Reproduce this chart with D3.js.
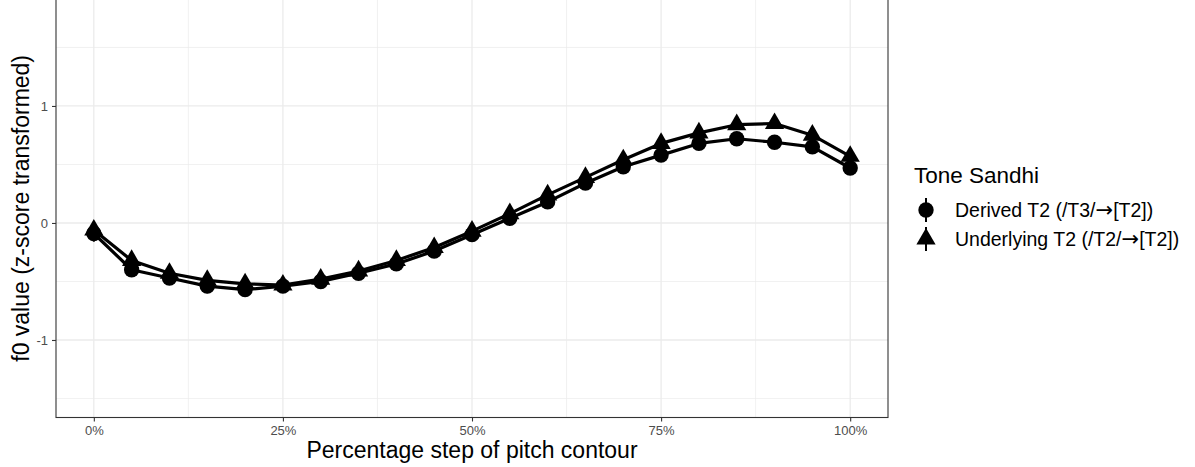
<!DOCTYPE html>
<html>
<head>
<meta charset="utf-8">
<script src="https://cdn.jsdelivr.net/npm/d3@7"></script>
<style>
  body { margin: 0; background: #fff; }
  svg { display: block; font-family: "Liberation Sans", Arial, Helvetica, sans-serif; }
</style>
</head>
<body>
<div id="chart"></div>
<script>
// percentage steps of the pitch contour
const steps = [0, 5, 10, 15, 20, 25, 30, 35, 40, 45, 50, 55, 60, 65, 70, 75, 80, 85, 90, 95, 100];

// mean f0 (z-score) for each tone sandhi group
const derivedT2 = [-0.09, -0.40, -0.47, -0.54, -0.57, -0.54, -0.50, -0.43, -0.35, -0.24, -0.10, 0.04, 0.18, 0.34, 0.48, 0.58, 0.68, 0.72, 0.69, 0.65, 0.47];
const underlyingT2 = [-0.06, -0.32, -0.43, -0.49, -0.52, -0.53, -0.48, -0.41, -0.32, -0.21, -0.07, 0.08, 0.24, 0.39, 0.54, 0.68, 0.77, 0.84, 0.85, 0.75, 0.57];

// standard errors (error bars)
const derivedSE = [0.07, 0.06, 0.06, 0.06, 0.06, 0.05, 0.05, 0.05, 0.05, 0.05, 0.05, 0.05, 0.05, 0.05, 0.05, 0.05, 0.05, 0.05, 0.05, 0.05, 0.05];
const underlyingSE = [0.05, 0.05, 0.05, 0.05, 0.05, 0.04, 0.04, 0.04, 0.04, 0.04, 0.04, 0.04, 0.04, 0.04, 0.04, 0.04, 0.04, 0.04, 0.04, 0.04, 0.04];

// legend labels, split round the arrow
const seriesLabels = [["Derived T2 (/T3/", "[T2])"], ["Underlying T2 (/T2/", "[T2])"]];
const xTicks = [0, 25, 50, 75, 100];
const xMinor = [12.5, 37.5, 62.5, 87.5];
const yTicks = [-1, 0, 1];
const yMinor = [-1.5, -0.5, 0.5, 1.5];

const svg_w = 1195, svg_h = 467;
const margin = { top: -0.8, right: 307, bottom: 49.5, left: 56 };
const width = svg_w - margin.left - margin.right,
    height = svg_h - margin.top - margin.bottom;

const svg = d3.select("#chart")
    .append("svg")
    .attr("width", svg_w)
    .attr("height", svg_h);

const g = svg.append("g")
    .attr("transform", "translate(" + margin.left + "," + margin.top + ")");

// ggplot-like expanded limits
const x = d3.scaleLinear().domain([-5, 105]).range([0, width]);
const y = d3.scaleLinear().domain([-1.6625, 1.9125]).range([height, 0]);

// grid lines
g.selectAll(".xminor").data(xMinor).enter().append("line")
    .attr("x1", d => x(d)).attr("x2", d => x(d))
    .attr("y1", 0).attr("y2", height)
    .attr("stroke", "#ebebeb").attr("stroke-width", 0.7);
g.selectAll(".yminor").data(yMinor).enter().append("line")
    .attr("x1", 0).attr("x2", width)
    .attr("y1", d => y(d)).attr("y2", d => y(d))
    .attr("stroke", "#ebebeb").attr("stroke-width", 0.7);
g.selectAll(".xmajor").data(xTicks).enter().append("line")
    .attr("x1", d => x(d)).attr("x2", d => x(d))
    .attr("y1", 0).attr("y2", height)
    .attr("stroke", "#ebebeb").attr("stroke-width", 1.3);
g.selectAll(".ymajor").data(yTicks).enter().append("line")
    .attr("x1", 0).attr("x2", width)
    .attr("y1", d => y(d)).attr("y2", d => y(d))
    .attr("stroke", "#ebebeb").attr("stroke-width", 1.3);

// series
const series = [
    { label: seriesLabels[0], values: derivedT2, se: derivedSE, shape: d3.symbolCircle, size: 185 },
    { label: seriesLabels[1], values: underlyingT2, se: underlyingSE, shape: d3.symbolTriangle, size: 160 },
];

const line = d3.line()
    .x((d, i) => x(steps[i]))
    .y(d => y(d));

series.forEach(s => {
    g.append("path")
        .datum(s.values)
        .attr("fill", "none")
        .attr("stroke", "#000")
        .attr("stroke-width", 3.2)
        .attr("stroke-linejoin", "round")
        .attr("d", line);
});

series.forEach(s => {
    const grp = g.append("g");
    grp.selectAll("line")
        .data(s.values)
        .enter()
        .append("line")
        .attr("x1", (d, i) => x(steps[i]))
        .attr("x2", (d, i) => x(steps[i]))
        .attr("y1", (d, i) => y(d - s.se[i]))
        .attr("y2", (d, i) => y(d + s.se[i]))
        .attr("stroke", "#000")
        .attr("stroke-width", 2);
    grp.selectAll("path")
        .data(s.values)
        .enter()
        .append("path")
        .attr("transform", (d, i) => "translate(" + x(steps[i]) + "," + y(d) + ")")
        .attr("d", d3.symbol().type(s.shape).size(s.size))
        .attr("fill", "#000");
});

// panel border
g.append("rect")
    .attr("x", 0).attr("y", 0)
    .attr("width", width).attr("height", height)
    .attr("fill", "none")
    .attr("stroke", "#333333")
    .attr("stroke-width", 1.1);

// axes
const xAxis = d3.axisBottom(x).tickValues(xTicks).tickSize(4).tickPadding(4)
    .tickFormat(d => d + "%");
const gx = g.append("g")
    .attr("transform", "translate(0," + height + ")")
    .call(xAxis);
gx.select(".domain").remove();
gx.selectAll("line").attr("stroke", "#333333").attr("stroke-width", 1.1);
gx.selectAll("text").attr("fill", "#4d4d4d").style("font-size", "13px");

const yAxis = d3.axisLeft(y).tickValues(yTicks).tickSize(4).tickPadding(4)
    .tickFormat(d => String(d));
const gy = g.append("g").call(yAxis);
gy.select(".domain").remove();
gy.selectAll("line").attr("stroke", "#333333").attr("stroke-width", 1.1);
gy.selectAll("text").attr("fill", "#4d4d4d").style("font-size", "13px");

// axis titles
svg.append("text")
    .attr("x", margin.left + width / 2)
    .attr("y", 458)
    .attr("text-anchor", "middle")
    .style("font-size", "23px")
    .text("Percentage step of pitch contour");

svg.append("text")
    .attr("transform", "translate(29," + (margin.top + height / 2) + ") rotate(-90)")
    .attr("text-anchor", "middle")
    .style("font-size", "23px")
    .text("f0 value (z-score transformed)");

// legend
const legend = svg.append("g").attr("transform", "translate(914,0)");
legend.append("text")
    .attr("x", 0).attr("y", 183)
    .style("font-size", "22.5px")
    .text("Tone Sandhi");

series.forEach((s, i) => {
    const ky = 210 + i * 29;
    const item = legend.append("g").attr("transform", "translate(12," + ky + ")");
    item.append("line")
        .attr("x1", 0).attr("x2", 0)
        .attr("y1", -12).attr("y2", 12)
        .attr("stroke", "#000").attr("stroke-width", 2);
    item.append("path")
        .attr("d", d3.symbol().type(s.shape).size(s.size))
        .attr("fill", "#000");
    const t = item.append("text")
        .attr("x", 29).attr("y", 7)
        .style("font-size", "19.5px");
    t.append("tspan").text(s.label[0]);
    t.append("tspan").style("font-family", "'DejaVu Sans'").style("font-size", "21px").text("\u2192");
    t.append("tspan").text(s.label[1]);
});
</script>
</body>
</html>
